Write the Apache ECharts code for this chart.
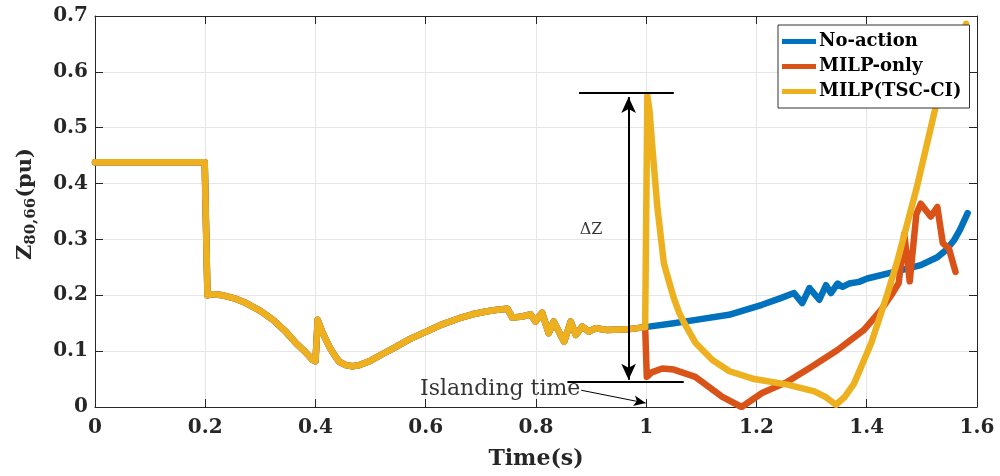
<!DOCTYPE html>
<html><head><meta charset="utf-8">
<script src="https://cdn.jsdelivr.net/npm/echarts@6/dist/echarts.min.js"></script>
<style>html,body{margin:0;padding:0;background:#fff}#c{width:1000px;height:476px}</style>
</head><body><div id="c"></div>
<script>
// shared trajectory before islanding (all three cases overlap)
const preT = [0, 0.199, 0.204, 0.215, 0.232, 0.255, 0.274, 0.3, 0.323, 0.345, 0.365, 0.38, 0.395, 0.4, 0.404, 0.412, 0.425, 0.435, 0.443, 0.455, 0.467, 0.48, 0.5, 0.52, 0.541, 0.57, 0.601, 0.63, 0.661, 0.685, 0.709, 0.73, 0.748, 0.757, 0.775, 0.79, 0.799, 0.811, 0.823, 0.832, 0.851, 0.863, 0.872, 0.884, 0.896, 0.908, 0.929, 0.966, 0.998];
const preZ = [0.438, 0.438, 0.2, 0.202, 0.2, 0.194, 0.186, 0.172, 0.156, 0.136, 0.114, 0.1, 0.084, 0.082, 0.156, 0.135, 0.108, 0.092, 0.081, 0.075, 0.073, 0.075, 0.083, 0.094, 0.105, 0.121, 0.135, 0.148, 0.159, 0.166, 0.171, 0.174, 0.176, 0.16, 0.162, 0.166, 0.153, 0.169, 0.132, 0.153, 0.117, 0.153, 0.129, 0.144, 0.135, 0.141, 0.138, 0.139, 0.143];

// after islanding
const noActionT = [1.0, 1.05, 1.09, 1.15, 1.21, 1.244, 1.268, 1.283, 1.296, 1.314, 1.326, 1.335, 1.347, 1.356, 1.368, 1.386, 1.401, 1.45, 1.498, 1.528, 1.544, 1.558, 1.569, 1.583];
const noActionZ = [0.145, 0.15, 0.156, 0.165, 0.183, 0.195, 0.204, 0.186, 0.213, 0.192, 0.218, 0.204, 0.221, 0.215, 0.221, 0.224, 0.23, 0.242, 0.254, 0.268, 0.281, 0.298, 0.317, 0.347];

const milpOnlyT = [1.001, 1.01, 1.029, 1.05, 1.089, 1.138, 1.173, 1.21, 1.256, 1.3, 1.347, 1.395, 1.426, 1.447, 1.458, 1.468, 1.478, 1.49, 1.498, 1.516, 1.528, 1.538, 1.549, 1.561];
const milpOnlyZ = [0.054, 0.062, 0.069, 0.067, 0.054, 0.018, 0.0, 0.025, 0.045, 0.072, 0.102, 0.138, 0.174, 0.204, 0.222, 0.31, 0.225, 0.345, 0.364, 0.341, 0.358, 0.293, 0.284, 0.242];

const milpTscT = [1.002, 1.006, 1.011, 1.02, 1.032, 1.042, 1.05, 1.06, 1.069, 1.09, 1.12, 1.151, 1.196, 1.256, 1.305, 1.325, 1.344, 1.36, 1.377, 1.408, 1.438, 1.456, 1.49, 1.525, 1.55, 1.58];
const milpTscZ = [0.557, 0.53, 0.466, 0.359, 0.257, 0.222, 0.195, 0.168, 0.15, 0.114, 0.084, 0.064, 0.05, 0.04, 0.028, 0.018, 0.004, 0.018, 0.042, 0.114, 0.204, 0.263, 0.39, 0.537, 0.61, 0.686];

const seriesNames = ['No-action', 'MILP-only', 'MILP(TSC-CI)'];
const xTicks = [0, 0.2, 0.4, 0.6, 0.8, 1, 1.2, 1.4, 1.6];
const yTicks = [0, 0.1, 0.2, 0.3, 0.4, 0.5, 0.6, 0.7];

// annotation geometry in data units
const dzTop = [[0.878, 0.563], [1.05, 0.563]];
const dzBottom = [[0.857, 0.045], [1.068, 0.045]];
const dzArrow = [[0.968, 0.555], [0.968, 0.049]];
const islandArrow = [[0.882, 0.030], [0.999, 0.007]];
const islandLabel = [0.735, 0.031];
const dzLabel = [0.9, 0.317];

function zip(t, z) { return t.map((v, i) => [v, z[i]]); }
const pre = zip(preT, preZ);

const colors = ['#0072BD', '#D95319', '#EDB120'];
const serif = '"DejaVu Serif", serif';

const chart = echarts.init(document.getElementById('c'), null, {renderer: 'canvas'});
const axisColor = '#262626';
const fmt = v => String(+(+v).toFixed(1));
const lw = 6.5;

const option = {
  animation: false,
  backgroundColor: '#fff',
  grid: {left: 95, right: 23, top: 16, bottom: 69},
  legend: {
    data: seriesNames,
    orient: 'vertical',
    left: 778, top: 25, z: 20,
    padding: [7, 8, 7, 4],
    itemWidth: 34, itemHeight: 5, itemGap: 6,
    icon: 'rect',
    backgroundColor: '#fff',
    borderColor: '#333', borderWidth: 1,
    textStyle: {fontFamily: serif, fontWeight: 'bold', fontSize: 18, color: '#000', lineHeight: 19, padding: [0, 0, 0, -2]}
  },
  xAxis: [{
    type: 'value', min: 0, max: 1.6, interval: 0.2, position: 'bottom',
    axisLine: {show: true, onZero: false, lineStyle: {color: axisColor, width: 1}},
    axisTick: {show: true, inside: true, length: 8, lineStyle: {color: axisColor}},
    axisLabel: {margin: 11, fontFamily: serif, fontWeight: 'bold', fontSize: 20, color: '#262626', formatter: fmt},
    splitLine: {show: true, lineStyle: {color: '#e6e6e6', width: 1}},
    name: 'Time(s)', nameLocation: 'middle', nameGap: 41,
    nameTextStyle: {fontFamily: serif, fontWeight: 'bold', fontSize: 22, color: '#262626'}
  }, {
    type: 'value', min: 0, max: 1.6, interval: 0.2, position: 'top',
    axisLine: {show: true, onZero: false, lineStyle: {color: axisColor, width: 1}},
    axisTick: {show: true, inside: true, length: 8, lineStyle: {color: axisColor}},
    axisLabel: {show: false}, splitLine: {show: false}
  }],
  yAxis: [{
    type: 'value', min: 0, max: 0.7, interval: 0.1, position: 'left',
    axisLine: {show: true, onZero: false, lineStyle: {color: axisColor, width: 1}},
    axisTick: {show: true, inside: true, length: 8, lineStyle: {color: axisColor}},
    axisLabel: {margin: 7, fontFamily: serif, fontWeight: 'bold', fontSize: 20, color: '#262626', formatter: fmt},
    splitLine: {show: true, lineStyle: {color: '#e6e6e6', width: 1}}
  }, {
    type: 'value', min: 0, max: 0.7, interval: 0.1, position: 'right',
    axisLine: {show: true, onZero: false, lineStyle: {color: axisColor, width: 1}},
    axisTick: {show: true, inside: true, length: 8, lineStyle: {color: axisColor}},
    axisLabel: {show: false}, splitLine: {show: false}
  }],
  graphic: [{
    type: 'text', left: 12, top: 148, rotation: Math.PI / 2,
    style: {
      text: '{z|Z}{s|80,66}{z|(pu)}',
      rich: {
        z: {fontFamily: serif, fontWeight: 'bold', fontSize: 21, fill: '#262626', lineHeight: 30},
        s: {fontFamily: serif, fontWeight: 'bold', fontSize: 15, fill: '#262626', padding: [12, 0, 0, 0], lineHeight: 30}
      }
    }
  }],
  series: [
    {name: seriesNames[0], type: 'line', showSymbol: false, symbol: 'none', data: pre.concat(zip(noActionT, noActionZ)),
     lineStyle: {color: colors[0], width: lw, join: 'round', cap: 'round'}, itemStyle: {color: colors[0]}, z: 2},
    {name: seriesNames[1], type: 'line', showSymbol: false, symbol: 'none', data: pre.concat(zip(milpOnlyT, milpOnlyZ)),
     lineStyle: {color: colors[1], width: lw, join: 'round', cap: 'round'}, itemStyle: {color: colors[1]}, z: 3},
    {name: seriesNames[2], type: 'line', showSymbol: false, symbol: 'none', data: pre.concat(zip(milpTscT, milpTscZ)),
     lineStyle: {color: colors[2], width: lw, join: 'round', cap: 'round'}, itemStyle: {color: colors[2]}, z: 4},
    {name: 'annot', type: 'line', data: [], z: 5, silent: true,
     markLine: {
       silent: true, animation: false, label: {show: false},
       lineStyle: {color: '#000', type: 'solid', width: 2},
       data: [
         [{coord: dzTop[0], symbol: 'none'}, {coord: dzTop[1], symbol: 'none'}],
         [{coord: dzBottom[0], symbol: 'none'}, {coord: dzBottom[1], symbol: 'none'}],
         [{coord: dzArrow[0], symbol: 'arrow', symbolSize: [11, 16]}, {coord: dzArrow[1], symbol: 'arrow', symbolSize: [11, 16]}],
         [{coord: islandArrow[0], symbol: 'none', lineStyle: {width: 1}}, {coord: islandArrow[1], symbol: 'arrow', symbolSize: [8, 12], lineStyle: {width: 1}}]
       ]
     }},
    {name: 'labels', type: 'scatter', symbolSize: 0, z: 6, silent: true,
     data: [
       {value: islandLabel, label: {show: true, formatter: 'Islanding time', fontFamily: serif, fontSize: 22, color: '#000'}},
       {value: dzLabel, label: {show: true, formatter: 'ΔZ', fontFamily: serif, fontSize: 16, color: '#000'}}
     ],
     label: {position: 'inside'}}
  ]
};
chart.setOption(option);
</script>
</body></html>
